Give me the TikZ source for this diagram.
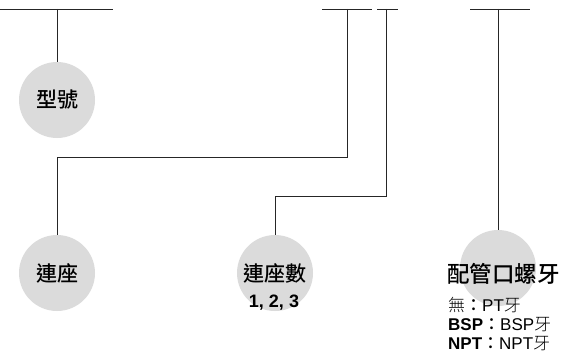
\documentclass[tikz,border=0pt]{standalone}
\usepackage{fontspec}
\setmainfont{Liberation Sans}
\newfontfamily\cjk{Noto Sans CJK TC}[UprightFont=* Medium]
\newfontfamily\cjkthin{Noto Sans CJK TC}[UprightFont=* Light]
\usetikzlibrary{positioning}

\begin{document}
\begin{tikzpicture}[x=1pt,y=-1pt]
  \tikzset{
    bubble/.style={circle,fill=black!14,minimum size=76pt,inner sep=0pt,
      font=\cjk\fontsize{21}{21}\selectfont},
    wire/.style={line width=0.9pt,black!85},
    note/.style={anchor=west,inner sep=0pt,font=\fontsize{17}{17}\selectfont}
  }
  \useasboundingbox (0,0) rectangle (561,353);
  % circles
  \node[bubble] (model) at (57,100) {型號};
  \node[bubble] (seat) at (57,273) {連座};
  \node[bubble] (count) at (275,273) {連座數};
  \node[bubble] (thread) at (498,268) {};
  \node[font=\bfseries\fontsize{18}{18}\selectfont,inner sep=0pt] (countval) at (274,303) {1, 2, 3};
  \node[anchor=west,inner sep=0pt,font=\cjk\fontsize{22.5}{22.5}\selectfont] (threadlbl) at (447,274) {配管口螺牙};
  \node[note] (opt1) at (448,305) {{\cjkthin 無}{\cjk ：}PT{\cjkthin 牙}};
  \node[note] (opt2) at (448,325) {\textbf{BSP}{\cjk ：}BSP{\cjkthin 牙}};
  \node[note] (opt3) at (448,344) {\textbf{NPT}{\cjk ：}NPT{\cjkthin 牙}};
  % top bars
  \coordinate (t1) at (57,9);
  \coordinate (t2) at (347,9);
  \coordinate (t3) at (386,9);
  \coordinate (t4) at (498,9);
  \draw[wire] (0,9) -- (113,9);
  \draw[wire] (322,9) -- (372,9);
  \draw[wire] (377,9) -- (398,9);
  \draw[wire] (470,9) -- (530,9);
  % connectors
  \draw[wire] (t1) -- (model.north);
  \draw[wire] (t2) -- ++(0,148) -| (seat.north);
  \draw[wire] (t3) -- ++(0,187) -| (count.north);
  \draw[wire] (t4) -- (thread.north);
\end{tikzpicture}
\end{document}
